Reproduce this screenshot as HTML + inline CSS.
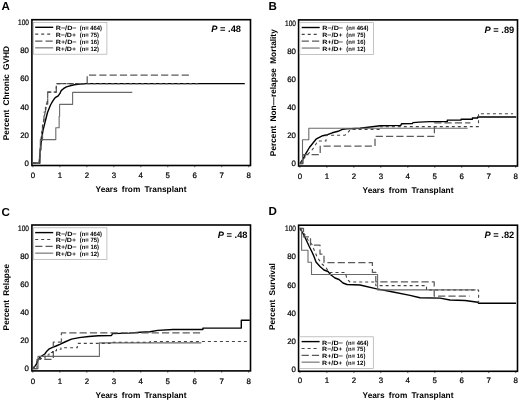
<!DOCTYPE html>
<html><head><meta charset="utf-8"><style>
html,body{margin:0;padding:0;background:#fff;overflow:hidden;width:520px;height:401px;}
svg{display:block;will-change:transform;}
text{font-family:"Liberation Sans", sans-serif;fill:#000;text-rendering:geometricPrecision;}
.tk{stroke:#000;stroke-width:0.22;stroke-linejoin:round;}
</style></head><body>
<svg width="520" height="401" viewBox="0 0 520 401">
<rect width="520" height="401" fill="#fff"/>
<text x="1.60" y="10.20" font-size="11.6" font-weight="bold">A</text>
<rect x="31.90" y="19.70" width="218.60" height="145.80" fill="none" stroke="#000" stroke-width="1.6"/>
<text x="29.00" y="165.95" font-size="7.9" text-anchor="end" class="tk">0</text>
<text x="29.00" y="137.73" font-size="7.9" text-anchor="end" class="tk">20</text>
<text x="29.00" y="109.51" font-size="7.9" text-anchor="end" class="tk">40</text>
<text x="29.00" y="81.29" font-size="7.9" text-anchor="end" class="tk">60</text>
<text x="29.00" y="53.07" font-size="7.9" text-anchor="end" class="tk">80</text>
<text x="29.00" y="24.85" font-size="7.9" text-anchor="end" class="tk" textLength="10.9" lengthAdjust="spacingAndGlyphs">100</text>
<line x1="32.90" y1="165.50" x2="32.90" y2="167.30" stroke="#000" stroke-width="0.6"/>
<text x="32.90" y="178.20" font-size="7.9" text-anchor="middle" class="tk">0</text>
<line x1="59.88" y1="165.50" x2="59.88" y2="167.30" stroke="#000" stroke-width="0.6"/>
<text x="59.88" y="178.20" font-size="7.9" text-anchor="middle" class="tk">1</text>
<line x1="86.86" y1="165.50" x2="86.86" y2="167.30" stroke="#000" stroke-width="0.6"/>
<text x="86.86" y="178.20" font-size="7.9" text-anchor="middle" class="tk">2</text>
<line x1="113.84" y1="165.50" x2="113.84" y2="167.30" stroke="#000" stroke-width="0.6"/>
<text x="113.84" y="178.20" font-size="7.9" text-anchor="middle" class="tk">3</text>
<line x1="140.82" y1="165.50" x2="140.82" y2="167.30" stroke="#000" stroke-width="0.6"/>
<text x="140.82" y="178.20" font-size="7.9" text-anchor="middle" class="tk">4</text>
<line x1="167.80" y1="165.50" x2="167.80" y2="167.30" stroke="#000" stroke-width="0.6"/>
<text x="167.80" y="178.20" font-size="7.9" text-anchor="middle" class="tk">5</text>
<line x1="194.78" y1="165.50" x2="194.78" y2="167.30" stroke="#000" stroke-width="0.6"/>
<text x="194.78" y="178.20" font-size="7.9" text-anchor="middle" class="tk">6</text>
<line x1="221.76" y1="165.50" x2="221.76" y2="167.30" stroke="#000" stroke-width="0.6"/>
<text x="221.76" y="178.20" font-size="7.9" text-anchor="middle" class="tk">7</text>
<line x1="248.74" y1="165.50" x2="248.74" y2="167.30" stroke="#000" stroke-width="0.6"/>
<text x="248.74" y="178.20" font-size="7.9" text-anchor="middle" class="tk">8</text>
<text x="141.00" y="192.20" font-size="8.3" font-weight="bold" text-anchor="middle" word-spacing="1.85">Years from Transplant</text>
<text transform="translate(8.80,93.10) rotate(-90)" font-size="8.3" font-weight="bold" text-anchor="middle" word-spacing="1.9">Percent Chronic GVHD</text>
<text x="211.30" y="31.60" font-size="9.3" font-weight="bold"><tspan font-style="italic">P</tspan> = .48</text>
<rect x="33.30" y="22.50" width="73.6" height="31.7" fill="#fff" stroke="#aaa" stroke-width="0.7"/>
<line x1="35.20" y1="27.30" x2="53.20" y2="27.30" stroke="#000" stroke-width="1.4"/>
<text x="55.70" y="30.20" font-size="6.1" font-weight="bold" textLength="20.9" lengthAdjust="spacingAndGlyphs">R−/D−</text>
<text x="79.70" y="30.20" font-size="6.1" font-weight="bold" textLength="22.3" lengthAdjust="spacingAndGlyphs">(n= 464)</text>
<line x1="35.20" y1="34.15" x2="53.20" y2="34.15" stroke="#444" stroke-width="1.1" stroke-dasharray="3 3"/>
<text x="55.70" y="37.05" font-size="6.1" font-weight="bold" textLength="20.4" lengthAdjust="spacingAndGlyphs">R−/D+</text>
<text x="79.70" y="37.05" font-size="6.1" font-weight="bold" textLength="19.3" lengthAdjust="spacingAndGlyphs">(n= 75)</text>
<line x1="35.20" y1="41.00" x2="53.20" y2="41.00" stroke="#5a5a5a" stroke-width="1.25" stroke-dasharray="7.2 3.1"/>
<text x="55.70" y="43.90" font-size="6.1" font-weight="bold" textLength="20.9" lengthAdjust="spacingAndGlyphs">R+/D−</text>
<text x="79.70" y="43.90" font-size="6.1" font-weight="bold" textLength="19.3" lengthAdjust="spacingAndGlyphs">(n= 16)</text>
<line x1="35.20" y1="47.85" x2="53.20" y2="47.85" stroke="#6a6a6a" stroke-width="1.1"/>
<text x="55.70" y="50.75" font-size="6.1" font-weight="bold" textLength="20.4" lengthAdjust="spacingAndGlyphs">R+/D+</text>
<text x="79.70" y="50.75" font-size="6.1" font-weight="bold" textLength="19.3" lengthAdjust="spacingAndGlyphs">(n= 12)</text>
<path d="M32.9,163.1 H39.2 L40.3,149.9 L41.5,139.4 L43,130.4 L45.2,121.5 L47.5,112.5 L50.5,105 L53,100.7 L55.2,97.7 L58.2,95.8 L60.1,93.2 L61.2,90.6 L63.4,88.7 L66.4,86.9 L70,85.8 L74.2,84.8 L80,84 L86.7,83.6 L244.8,83.6" fill="none" stroke="#000" stroke-width="1.4" stroke-linejoin="round"/>
<path d="M32.9,163.1 H40.3 V139.6 H55.8 V127.7 H59.15 V116.3 H59.6 V104.4 H72.6 V92.4 H132.3" fill="none" stroke="#6a6a6a" stroke-width="1.1" stroke-linejoin="round"/>
<path d="M32.9,163.1 H39.6 V150 H41 V140 H42.5 V125 H44 V112 H45.5 V104 H47.7 V92.1 H56.3 V83.5 H87.2 V75.0 H190.8" fill="none" stroke="#5a5a5a" stroke-width="1.25" stroke-dasharray="7.2 3.1" stroke-linejoin="round"/>
<path d="M32.9,163.1 H39.3 L40.5,145 L41.5,133.4 L43.7,120 L46,108 L47.7,98.5 V92.1 H56.3 V83.6 H201" fill="none" stroke="#444" stroke-width="1.1" stroke-dasharray="3 3" stroke-linejoin="round"/>
<text x="268.60" y="10.10" font-size="11.6" font-weight="bold">B</text>
<rect x="298.60" y="19.90" width="218.90" height="146.10" fill="none" stroke="#000" stroke-width="1.6"/>
<text x="296.00" y="166.45" font-size="7.9" text-anchor="end" class="tk">0</text>
<text x="296.00" y="138.35" font-size="7.9" text-anchor="end" class="tk">20</text>
<text x="296.00" y="110.25" font-size="7.9" text-anchor="end" class="tk">40</text>
<text x="296.00" y="82.15" font-size="7.9" text-anchor="end" class="tk">60</text>
<text x="296.00" y="54.05" font-size="7.9" text-anchor="end" class="tk">80</text>
<text x="296.00" y="25.95" font-size="7.9" text-anchor="end" class="tk" textLength="10.9" lengthAdjust="spacingAndGlyphs">100</text>
<line x1="299.90" y1="166.00" x2="299.90" y2="167.80" stroke="#000" stroke-width="0.6"/>
<text x="299.90" y="178.50" font-size="7.9" text-anchor="middle" class="tk">0</text>
<line x1="326.88" y1="166.00" x2="326.88" y2="167.80" stroke="#000" stroke-width="0.6"/>
<text x="326.88" y="178.50" font-size="7.9" text-anchor="middle" class="tk">1</text>
<line x1="353.86" y1="166.00" x2="353.86" y2="167.80" stroke="#000" stroke-width="0.6"/>
<text x="353.86" y="178.50" font-size="7.9" text-anchor="middle" class="tk">2</text>
<line x1="380.84" y1="166.00" x2="380.84" y2="167.80" stroke="#000" stroke-width="0.6"/>
<text x="380.84" y="178.50" font-size="7.9" text-anchor="middle" class="tk">3</text>
<line x1="407.82" y1="166.00" x2="407.82" y2="167.80" stroke="#000" stroke-width="0.6"/>
<text x="407.82" y="178.50" font-size="7.9" text-anchor="middle" class="tk">4</text>
<line x1="434.80" y1="166.00" x2="434.80" y2="167.80" stroke="#000" stroke-width="0.6"/>
<text x="434.80" y="178.50" font-size="7.9" text-anchor="middle" class="tk">5</text>
<line x1="461.78" y1="166.00" x2="461.78" y2="167.80" stroke="#000" stroke-width="0.6"/>
<text x="461.78" y="178.50" font-size="7.9" text-anchor="middle" class="tk">6</text>
<line x1="488.76" y1="166.00" x2="488.76" y2="167.80" stroke="#000" stroke-width="0.6"/>
<text x="488.76" y="178.50" font-size="7.9" text-anchor="middle" class="tk">7</text>
<line x1="515.74" y1="166.00" x2="515.74" y2="167.80" stroke="#000" stroke-width="0.6"/>
<text x="515.74" y="178.50" font-size="7.9" text-anchor="middle" class="tk">8</text>
<text x="408.00" y="192.50" font-size="8.3" font-weight="bold" text-anchor="middle" word-spacing="1.85">Years from Transplant</text>
<text transform="translate(275.50,92.70) rotate(-90)" font-size="8.3" font-weight="bold" text-anchor="middle" word-spacing="1.9">Percent Non—relapse Mortality</text>
<text x="484.50" y="32.60" font-size="9.3" font-weight="bold"><tspan font-style="italic">P</tspan> = .89</text>
<rect x="299.80" y="22.70" width="73.6" height="31.7" fill="#fff" stroke="#aaa" stroke-width="0.7"/>
<line x1="301.70" y1="27.50" x2="319.70" y2="27.50" stroke="#000" stroke-width="1.4"/>
<text x="322.20" y="30.40" font-size="6.1" font-weight="bold" textLength="20.9" lengthAdjust="spacingAndGlyphs">R−/D−</text>
<text x="346.20" y="30.40" font-size="6.1" font-weight="bold" textLength="22.3" lengthAdjust="spacingAndGlyphs">(n= 464)</text>
<line x1="301.70" y1="34.35" x2="319.70" y2="34.35" stroke="#444" stroke-width="1.1" stroke-dasharray="3 3"/>
<text x="322.20" y="37.25" font-size="6.1" font-weight="bold" textLength="20.4" lengthAdjust="spacingAndGlyphs">R−/D+</text>
<text x="346.20" y="37.25" font-size="6.1" font-weight="bold" textLength="19.3" lengthAdjust="spacingAndGlyphs">(n= 75)</text>
<line x1="301.70" y1="41.20" x2="319.70" y2="41.20" stroke="#5a5a5a" stroke-width="1.25" stroke-dasharray="7.2 3.1"/>
<text x="322.20" y="44.10" font-size="6.1" font-weight="bold" textLength="20.9" lengthAdjust="spacingAndGlyphs">R+/D−</text>
<text x="346.20" y="44.10" font-size="6.1" font-weight="bold" textLength="19.3" lengthAdjust="spacingAndGlyphs">(n= 16)</text>
<line x1="301.70" y1="48.05" x2="319.70" y2="48.05" stroke="#6a6a6a" stroke-width="1.1"/>
<text x="322.20" y="50.95" font-size="6.1" font-weight="bold" textLength="20.4" lengthAdjust="spacingAndGlyphs">R+/D+</text>
<text x="346.20" y="50.95" font-size="6.1" font-weight="bold" textLength="19.3" lengthAdjust="spacingAndGlyphs">(n= 12)</text>
<path d="M299.9,163.6 L302.8,159.5 L305.2,154.7 L309.4,147.5 L316,139.2 L317.9,138.1 L322.7,135.7 L327.5,134.7 L332.3,132.8 L338.1,131.3 L342.9,129.2 L346.7,128.9 L360,128.2 L380.2,125.8 L400.8,125.4 L401.5,123.8 L412.3,123.6 L413,122.6 L419.2,122.1 L430,121.6 L447.3,121.6 V120.1 H461.1 V119.2 H472.4 V118 H477.7 V117 H516.2" fill="none" stroke="#000" stroke-width="1.4" stroke-linejoin="round"/>
<path d="M299.9,163.6 H302.5 V139.8 H308.8 V128.2 H467.7" fill="none" stroke="#6a6a6a" stroke-width="1.1" stroke-linejoin="round"/>
<path d="M299.9,163.6 H303 V154.7 H320.2 V146 H375 V136.4 H434.4 V122.8 H470.4" fill="none" stroke="#5a5a5a" stroke-width="1.25" stroke-dasharray="7.2 3.1" stroke-linejoin="round"/>
<path d="M299.9,163.6 L306.4,155.3 L311.2,151.1 L314.2,147 L317.8,141 H326 V135.3 H344.8 L347.7,132.8 L350.6,129.4 H380 V126.6 H478.5 V113.7 H513" fill="none" stroke="#444" stroke-width="1.1" stroke-dasharray="3 3" stroke-linejoin="round"/>
<text x="1.60" y="215.70" font-size="11.6" font-weight="bold">C</text>
<rect x="31.90" y="225.00" width="218.60" height="145.90" fill="none" stroke="#000" stroke-width="1.6"/>
<text x="29.00" y="371.45" font-size="7.9" text-anchor="end" class="tk">0</text>
<text x="29.00" y="343.35" font-size="7.9" text-anchor="end" class="tk">20</text>
<text x="29.00" y="315.25" font-size="7.9" text-anchor="end" class="tk">40</text>
<text x="29.00" y="287.15" font-size="7.9" text-anchor="end" class="tk">60</text>
<text x="29.00" y="259.05" font-size="7.9" text-anchor="end" class="tk">80</text>
<text x="29.00" y="230.95" font-size="7.9" text-anchor="end" class="tk" textLength="10.9" lengthAdjust="spacingAndGlyphs">100</text>
<line x1="32.90" y1="370.90" x2="32.90" y2="372.70" stroke="#000" stroke-width="0.6"/>
<text x="32.90" y="383.70" font-size="7.9" text-anchor="middle" class="tk">0</text>
<line x1="59.88" y1="370.90" x2="59.88" y2="372.70" stroke="#000" stroke-width="0.6"/>
<text x="59.88" y="383.70" font-size="7.9" text-anchor="middle" class="tk">1</text>
<line x1="86.86" y1="370.90" x2="86.86" y2="372.70" stroke="#000" stroke-width="0.6"/>
<text x="86.86" y="383.70" font-size="7.9" text-anchor="middle" class="tk">2</text>
<line x1="113.84" y1="370.90" x2="113.84" y2="372.70" stroke="#000" stroke-width="0.6"/>
<text x="113.84" y="383.70" font-size="7.9" text-anchor="middle" class="tk">3</text>
<line x1="140.82" y1="370.90" x2="140.82" y2="372.70" stroke="#000" stroke-width="0.6"/>
<text x="140.82" y="383.70" font-size="7.9" text-anchor="middle" class="tk">4</text>
<line x1="167.80" y1="370.90" x2="167.80" y2="372.70" stroke="#000" stroke-width="0.6"/>
<text x="167.80" y="383.70" font-size="7.9" text-anchor="middle" class="tk">5</text>
<line x1="194.78" y1="370.90" x2="194.78" y2="372.70" stroke="#000" stroke-width="0.6"/>
<text x="194.78" y="383.70" font-size="7.9" text-anchor="middle" class="tk">6</text>
<line x1="221.76" y1="370.90" x2="221.76" y2="372.70" stroke="#000" stroke-width="0.6"/>
<text x="221.76" y="383.70" font-size="7.9" text-anchor="middle" class="tk">7</text>
<line x1="248.74" y1="370.90" x2="248.74" y2="372.70" stroke="#000" stroke-width="0.6"/>
<text x="248.74" y="383.70" font-size="7.9" text-anchor="middle" class="tk">8</text>
<text x="141.00" y="397.70" font-size="8.3" font-weight="bold" text-anchor="middle" word-spacing="1.85">Years from Transplant</text>
<text transform="translate(8.80,297.15) rotate(-90)" font-size="8.3" font-weight="bold" text-anchor="middle" word-spacing="1.9">Percent Relapse</text>
<text x="217.80" y="238.00" font-size="9.3" font-weight="bold"><tspan font-style="italic">P</tspan> = .48</text>
<rect x="33.30" y="227.80" width="73.6" height="31.7" fill="#fff" stroke="#aaa" stroke-width="0.7"/>
<line x1="35.20" y1="232.60" x2="53.20" y2="232.60" stroke="#000" stroke-width="1.4"/>
<text x="55.70" y="235.50" font-size="6.1" font-weight="bold" textLength="20.9" lengthAdjust="spacingAndGlyphs">R−/D−</text>
<text x="79.70" y="235.50" font-size="6.1" font-weight="bold" textLength="22.3" lengthAdjust="spacingAndGlyphs">(n= 464)</text>
<line x1="35.20" y1="239.45" x2="53.20" y2="239.45" stroke="#444" stroke-width="1.1" stroke-dasharray="3 3"/>
<text x="55.70" y="242.35" font-size="6.1" font-weight="bold" textLength="20.4" lengthAdjust="spacingAndGlyphs">R−/D+</text>
<text x="79.70" y="242.35" font-size="6.1" font-weight="bold" textLength="19.3" lengthAdjust="spacingAndGlyphs">(n= 75)</text>
<line x1="35.20" y1="246.30" x2="53.20" y2="246.30" stroke="#5a5a5a" stroke-width="1.25" stroke-dasharray="7.2 3.1"/>
<text x="55.70" y="249.20" font-size="6.1" font-weight="bold" textLength="20.9" lengthAdjust="spacingAndGlyphs">R+/D−</text>
<text x="79.70" y="249.20" font-size="6.1" font-weight="bold" textLength="19.3" lengthAdjust="spacingAndGlyphs">(n= 16)</text>
<line x1="35.20" y1="253.15" x2="53.20" y2="253.15" stroke="#6a6a6a" stroke-width="1.1"/>
<text x="55.70" y="256.05" font-size="6.1" font-weight="bold" textLength="20.4" lengthAdjust="spacingAndGlyphs">R+/D+</text>
<text x="79.70" y="256.05" font-size="6.1" font-weight="bold" textLength="19.3" lengthAdjust="spacingAndGlyphs">(n= 12)</text>
<path d="M32.9,368.6 L35.2,365.9 L36.8,363.5 L38,360.3 L39.2,358 L41.6,356 L44.8,354 L46.8,351.2 L48.8,349.2 L52,347.6 L56,346 L59.9,344.3 L64.8,342 L71.5,339.1 L79.2,337.6 L88.8,336.5 L98.5,335.7 L111.5,335.5 L112.5,333.6 L128.8,333.1 L140.4,332.2 L150,331.8 L157.7,330.4 L173,329.5 H202.9 V328.1 H241.3 V320.2 H249.8" fill="none" stroke="#000" stroke-width="1.4" stroke-linejoin="round"/>
<path d="M32.9,368.6 H38 V356.4 H99.4 V342.9 H201.3" fill="none" stroke="#6a6a6a" stroke-width="1.1" stroke-linejoin="round"/>
<path d="M32.9,368.6 H37 V359.4 H53.3 V342.1 H61.4 V332.9 H202" fill="none" stroke="#5a5a5a" stroke-width="1.25" stroke-dasharray="7.2 3.1" stroke-linejoin="round"/>
<path d="M32.9,368.6 L36,364 L38.5,358.5 H45 V355 H49 V352.5 H52.5 V350.8 H56.5 V349.3 H61 V347.7 H77.3 V343.4 H110 V342.3 H150 V341.5 H246.8" fill="none" stroke="#444" stroke-width="1.1" stroke-dasharray="3 3" stroke-linejoin="round"/>
<text x="268.60" y="214.70" font-size="11.6" font-weight="bold">D</text>
<rect x="298.60" y="225.20" width="218.90" height="146.10" fill="none" stroke="#000" stroke-width="1.6"/>
<text x="296.00" y="371.85" font-size="7.9" text-anchor="end" class="tk">0</text>
<text x="296.00" y="343.75" font-size="7.9" text-anchor="end" class="tk">20</text>
<text x="296.00" y="315.65" font-size="7.9" text-anchor="end" class="tk">40</text>
<text x="296.00" y="287.55" font-size="7.9" text-anchor="end" class="tk">60</text>
<text x="296.00" y="259.45" font-size="7.9" text-anchor="end" class="tk">80</text>
<text x="296.00" y="231.35" font-size="7.9" text-anchor="end" class="tk" textLength="10.9" lengthAdjust="spacingAndGlyphs">100</text>
<line x1="299.90" y1="371.30" x2="299.90" y2="373.10" stroke="#000" stroke-width="0.6"/>
<text x="299.90" y="383.10" font-size="7.9" text-anchor="middle" class="tk">0</text>
<line x1="326.88" y1="371.30" x2="326.88" y2="373.10" stroke="#000" stroke-width="0.6"/>
<text x="326.88" y="383.10" font-size="7.9" text-anchor="middle" class="tk">1</text>
<line x1="353.86" y1="371.30" x2="353.86" y2="373.10" stroke="#000" stroke-width="0.6"/>
<text x="353.86" y="383.10" font-size="7.9" text-anchor="middle" class="tk">2</text>
<line x1="380.84" y1="371.30" x2="380.84" y2="373.10" stroke="#000" stroke-width="0.6"/>
<text x="380.84" y="383.10" font-size="7.9" text-anchor="middle" class="tk">3</text>
<line x1="407.82" y1="371.30" x2="407.82" y2="373.10" stroke="#000" stroke-width="0.6"/>
<text x="407.82" y="383.10" font-size="7.9" text-anchor="middle" class="tk">4</text>
<line x1="434.80" y1="371.30" x2="434.80" y2="373.10" stroke="#000" stroke-width="0.6"/>
<text x="434.80" y="383.10" font-size="7.9" text-anchor="middle" class="tk">5</text>
<line x1="461.78" y1="371.30" x2="461.78" y2="373.10" stroke="#000" stroke-width="0.6"/>
<text x="461.78" y="383.10" font-size="7.9" text-anchor="middle" class="tk">6</text>
<line x1="488.76" y1="371.30" x2="488.76" y2="373.10" stroke="#000" stroke-width="0.6"/>
<text x="488.76" y="383.10" font-size="7.9" text-anchor="middle" class="tk">7</text>
<line x1="515.74" y1="371.30" x2="515.74" y2="373.10" stroke="#000" stroke-width="0.6"/>
<text x="515.74" y="383.10" font-size="7.9" text-anchor="middle" class="tk">8</text>
<text x="408.00" y="397.70" font-size="8.3" font-weight="bold" text-anchor="middle" word-spacing="1.85">Years from Transplant</text>
<text transform="translate(275.00,296.60) rotate(-90)" font-size="8.3" font-weight="bold" text-anchor="middle" word-spacing="1.9">Percent Survival</text>
<text x="484.50" y="238.00" font-size="9.3" font-weight="bold"><tspan font-style="italic">P</tspan> = .82</text>
<rect x="299.70" y="336.80" width="73.6" height="31.7" fill="#fff" stroke="#aaa" stroke-width="0.7"/>
<line x1="301.60" y1="341.60" x2="319.60" y2="341.60" stroke="#000" stroke-width="1.4"/>
<text x="322.10" y="344.50" font-size="6.1" font-weight="bold" textLength="20.9" lengthAdjust="spacingAndGlyphs">R−/D−</text>
<text x="346.10" y="344.50" font-size="6.1" font-weight="bold" textLength="22.3" lengthAdjust="spacingAndGlyphs">(n= 464)</text>
<line x1="301.60" y1="348.45" x2="319.60" y2="348.45" stroke="#444" stroke-width="1.1" stroke-dasharray="3 3"/>
<text x="322.10" y="351.35" font-size="6.1" font-weight="bold" textLength="20.4" lengthAdjust="spacingAndGlyphs">R−/D+</text>
<text x="346.10" y="351.35" font-size="6.1" font-weight="bold" textLength="19.3" lengthAdjust="spacingAndGlyphs">(n= 75)</text>
<line x1="301.60" y1="355.30" x2="319.60" y2="355.30" stroke="#5a5a5a" stroke-width="1.25" stroke-dasharray="7.2 3.1"/>
<text x="322.10" y="358.20" font-size="6.1" font-weight="bold" textLength="20.9" lengthAdjust="spacingAndGlyphs">R+/D−</text>
<text x="346.10" y="358.20" font-size="6.1" font-weight="bold" textLength="19.3" lengthAdjust="spacingAndGlyphs">(n= 16)</text>
<line x1="301.60" y1="362.15" x2="319.60" y2="362.15" stroke="#6a6a6a" stroke-width="1.1"/>
<text x="322.10" y="365.05" font-size="6.1" font-weight="bold" textLength="20.4" lengthAdjust="spacingAndGlyphs">R+/D+</text>
<text x="346.10" y="365.05" font-size="6.1" font-weight="bold" textLength="19.3" lengthAdjust="spacingAndGlyphs">(n= 12)</text>
<path d="M299.9,228.3 L303,233.5 L306,239.5 L309,246 L312,252 L314,256.5 L316,262 L320,266.5 L324,270 L328,271.5 L331,275 L335,278 L339,279.5 L343,283 L347,284.5 L360,285 L376.7,288.9 L390.6,291.5 L410,295.4 L420,297.7 L440,298.1 L450,300 L465,300.5 L478,302.3 L478.6,303.3 H516" fill="none" stroke="#000" stroke-width="1.4" stroke-linejoin="round"/>
<path d="M299.9,228.3 H301.6 V250.2 H308 V262.2 H311.5 V274.5 H377.6 V289.9 H475.6" fill="none" stroke="#6a6a6a" stroke-width="1.1" stroke-linejoin="round"/>
<path d="M299.9,228.3 H303.5 V236.8 H310.5 V245.2 H320 V254.2 H324 V262.6 H372.4 V272.4 H375.8 V281.8 H434.2 V296.1 H469.5" fill="none" stroke="#5a5a5a" stroke-width="1.25" stroke-dasharray="7.2 3.1" stroke-linejoin="round"/>
<path d="M299.9,228.3 L305.5,235.5 L308,240 L312,244.5 L313.5,248.5 L315.5,253 L317,257 L322,264 L326,267.5 L329,272.5 H345.3 L347,279 L350,282 H375.8 V285.6 H426.5 V290 H478.6 V303.3" fill="none" stroke="#444" stroke-width="1.1" stroke-dasharray="3 3" stroke-linejoin="round"/>
</svg>
</body></html>
